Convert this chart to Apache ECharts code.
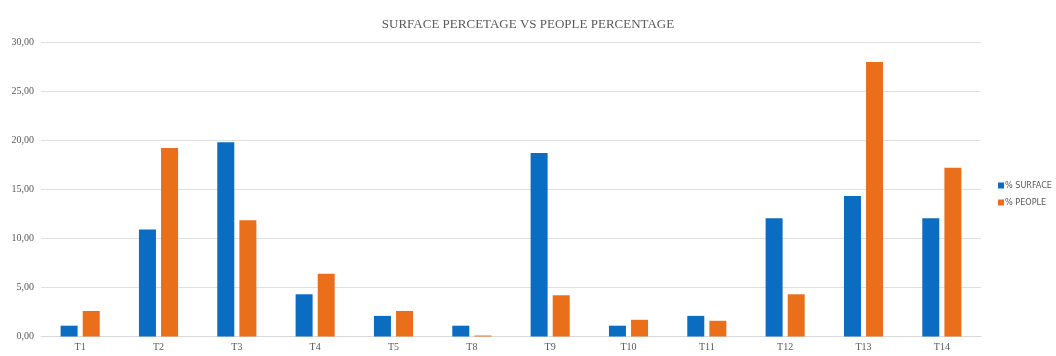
<!DOCTYPE html>
<html>
<head>
<meta charset="utf-8">
<script src="https://cdn.jsdelivr.net/npm/echarts@6/dist/echarts.min.js"></script>
<style>
  html, body { margin: 0; padding: 0; background: #fff; }
  #chart { width: 1056px; height: 356px; }
</style>
</head>
<body>
<div id="chart"></div>
<script>
// Categories and the two percentage series
const categories = ['T1', 'T2', 'T3', 'T4', 'T5', 'T8', 'T9', 'T10', 'T11', 'T12', 'T13', 'T14'];
const surfacePct = [1.1, 10.9, 19.8, 4.3, 2.1, 1.1, 18.7, 1.1, 2.1, 12.05, 14.3, 12.05];
const peoplePct = [2.6, 19.2, 11.85, 6.4, 2.6, 0.1, 4.2, 1.7, 1.6, 4.3, 27.95, 17.2];
const seriesNames = ['% SURFACE', '% PEOPLE'];
const titleText = 'SURFACE PERCETAGE VS PEOPLE PERCENTAGE';

const chart = echarts.init(document.getElementById('chart'), null, { renderer: 'canvas' });

chart.setOption({
  backgroundColor: '#ffffff',
  animation: false,
  color: ['#0A6DC2', '#EA6F1B'],
  title: {
    text: titleText,
    left: 'center',
    top: 13,
    textStyle: {
      fontFamily: 'Liberation Serif, DejaVu Serif, serif',
      fontSize: 13,
      fontWeight: 'normal',
      color: '#595959'
    }
  },
  legend: {
    orient: 'vertical',
    left: 993,
    top: 176,
    itemWidth: 6,
    itemHeight: 6,
    itemGap: 8,
    icon: 'rect',
    textStyle: {
      fontFamily: '"Liberation Sans Narrow", "DejaVu Sans Condensed", sans-serif',
      fontSize: 9,
      color: '#595959',
      padding: [0, 0, 0, -4]
    },
    data: seriesNames
  },
  grid: {
    left: 41,
    right: 75,
    top: 42,
    bottom: 19.5,
    containLabel: false
  },
  xAxis: {
    type: 'category',
    data: categories,
    axisLine: { lineStyle: { color: '#d9d9d9', width: 1 } },
    axisTick: { show: false },
    axisLabel: {
      fontFamily: 'Liberation Serif, DejaVu Serif, serif',
      fontSize: 10,
      color: '#595959',
      margin: 6
    }
  },
  yAxis: {
    type: 'value',
    min: 0,
    max: 30,
    interval: 5,
    axisLine: { show: false },
    axisTick: { show: false },
    splitLine: { lineStyle: { color: '#e0e0e0', width: 1 } },
    axisLabel: {
      fontFamily: 'Liberation Serif, DejaVu Serif, serif',
      fontSize: 10,
      color: '#595959',
      margin: 7,
      formatter: v => v.toFixed(2).replace('.', ',')
    }
  },
  series: [
    {
      name: seriesNames[0],
      type: 'bar',
      data: surfacePct,
      barWidth: 17,
      barGap: '30%'
    },
    {
      name: seriesNames[1],
      type: 'bar',
      data: peoplePct,
      barWidth: 17,
      barGap: '30%'
    }
  ]
});
</script>
</body>
</html>
